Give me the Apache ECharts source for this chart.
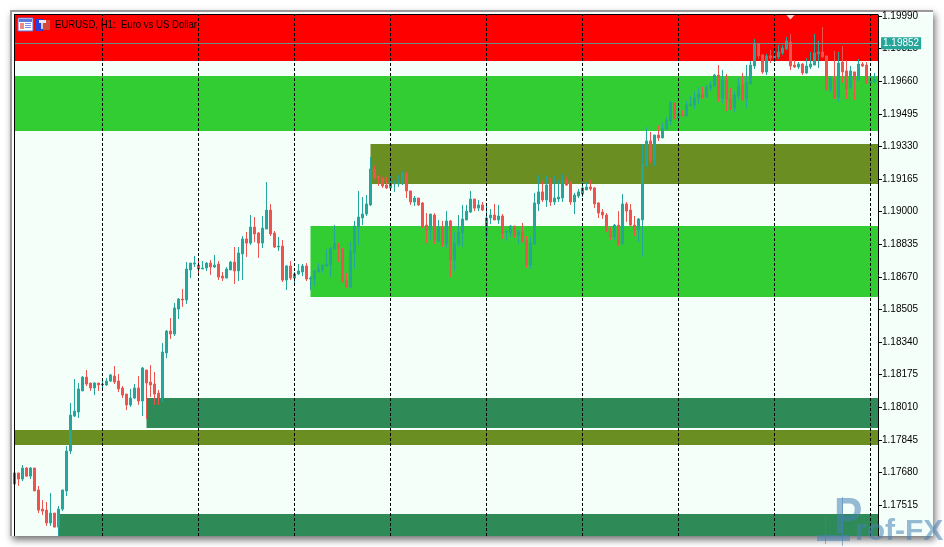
<!DOCTYPE html>
<html><head><meta charset="utf-8">
<style>html,body{margin:0;padding:0;background:#fff}#c{width:944px;height:547px}</style>
<script src="https://cdn.jsdelivr.net/npm/echarts@6/dist/echarts.min.js"></script>
</head><body><div id="c"></div>
<script>
var opens=[1.17622,1.17678,1.17647,1.17703,1.17662,1.17703,1.17592,1.17495,1.17490,1.17425,1.17475,1.17404,1.17495,1.17587,1.17789,1.17966,1.17986,1.18093,1.18163,1.18133,1.18108,1.18133,1.18123,1.18123,1.18143,1.18168,1.18143,1.18108,1.18077,1.18022,1.18057,1.18108,1.18042,1.18199,1.18138,1.18128,1.18082,1.18057,1.18285,1.18396,1.18381,1.18507,1.18558,1.18553,1.18705,1.18735,1.18730,1.18710,1.18715,1.18740,1.18720,1.18735,1.18674,1.18664,1.18705,1.18745,1.18700,1.18786,1.18862,1.18841,1.18922,1.18892,1.18841,1.18912,1.19008,1.18892,1.18821,1.18826,1.18654,1.18725,1.18664,1.18685,1.18695,1.18725,1.18659,1.18659,1.18695,1.18705,1.18725,1.18730,1.18811,1.18836,1.18811,1.18654,1.18619,1.18791,1.18922,1.18968,1.18988,1.19034,1.19216,1.19180,1.19170,1.19135,1.19120,1.19140,1.19140,1.19140,1.19196,1.19105,1.19049,1.19069,1.19044,1.18932,1.18907,1.18983,1.18852,1.18922,1.18836,1.18953,1.18755,1.18836,1.18892,1.18958,1.18998,1.19064,1.19018,1.19034,1.18877,1.18968,1.18983,1.18958,1.18978,1.18897,1.18892,1.18927,1.18882,1.18897,1.18857,1.18730,1.18836,1.19039,1.19100,1.19059,1.19145,1.19049,1.19064,1.19069,1.19160,1.19150,1.19049,1.19079,1.19089,1.19110,1.19125,1.19120,1.19044,1.18998,1.18983,1.18907,1.18872,1.18932,1.18836,1.19039,1.19008,1.18932,1.18907,1.18958,1.19231,1.19358,1.19261,1.19388,1.19373,1.19418,1.19459,1.19550,1.19474,1.19494,1.19484,1.19535,1.19540,1.19575,1.19595,1.19580,1.19626,1.19636,1.19691,1.19575,1.19666,1.19570,1.19524,1.19585,1.19641,1.19570,1.19646,1.19737,1.19848,1.19793,1.19707,1.19788,1.19777,1.19783,1.19803,1.19823,1.19858,1.19742,1.19732,1.19747,1.19702,1.19732,1.19742,1.19798,1.19808,1.19788,1.19616,1.19671,1.19580,1.19757,1.19712,1.19626,1.19707,1.19666,1.19747,1.19742,1.19651,1.19656];
var closes=[1.17678,1.17647,1.17703,1.17662,1.17703,1.17587,1.17490,1.17485,1.17425,1.17475,1.17404,1.17495,1.17592,1.17789,1.17971,1.17991,1.18103,1.18163,1.18128,1.18108,1.18133,1.18123,1.18128,1.18143,1.18174,1.18138,1.18103,1.18072,1.18022,1.18057,1.18108,1.18042,1.18209,1.18133,1.18123,1.18077,1.18057,1.18290,1.18396,1.18381,1.18513,1.18558,1.18553,1.18710,1.18740,1.18740,1.18710,1.18715,1.18740,1.18720,1.18730,1.18669,1.18664,1.18710,1.18745,1.18700,1.18791,1.18862,1.18841,1.18922,1.18887,1.18841,1.18917,1.19008,1.18887,1.18821,1.18826,1.18654,1.18725,1.18664,1.18685,1.18700,1.18725,1.18659,1.18664,1.18700,1.18710,1.18730,1.18735,1.18816,1.18841,1.18811,1.18644,1.18619,1.18801,1.18927,1.18973,1.18988,1.19039,1.19216,1.19170,1.19170,1.19130,1.19120,1.19140,1.19145,1.19150,1.19196,1.19105,1.19049,1.19069,1.19034,1.18922,1.18907,1.18988,1.18857,1.18922,1.18831,1.18953,1.18755,1.18841,1.18897,1.18963,1.19003,1.19064,1.19018,1.19034,1.19008,1.18968,1.18983,1.18958,1.18978,1.18887,1.18902,1.18927,1.18877,1.18897,1.18846,1.18730,1.18841,1.19044,1.19100,1.19059,1.19135,1.19049,1.19069,1.19074,1.19160,1.19135,1.19049,1.19084,1.19100,1.19120,1.19125,1.19115,1.19039,1.18993,1.18983,1.18902,1.18872,1.18932,1.18836,1.19039,1.19003,1.18932,1.18907,1.18963,1.19241,1.19358,1.19261,1.19388,1.19373,1.19423,1.19464,1.19555,1.19469,1.19494,1.19484,1.19540,1.19545,1.19575,1.19595,1.19575,1.19631,1.19641,1.19691,1.19575,1.19666,1.19570,1.19519,1.19590,1.19636,1.19565,1.19656,1.19742,1.19853,1.19788,1.19707,1.19788,1.19777,1.19788,1.19808,1.19828,1.19864,1.19737,1.19732,1.19747,1.19702,1.19737,1.19747,1.19803,1.19808,1.19783,1.19616,1.19681,1.19575,1.19752,1.19707,1.19621,1.19712,1.19666,1.19747,1.19737,1.19651,1.19661,1.19671];
var lows=[1.17622,1.17612,1.17637,1.17657,1.17647,1.17587,1.17475,1.17465,1.17410,1.17410,1.17404,1.17359,1.17485,1.17561,1.17774,1.17961,1.17956,1.18093,1.18118,1.18093,1.18072,1.18093,1.18098,1.18118,1.18138,1.18128,1.18088,1.18057,1.17996,1.18012,1.18052,1.18022,1.17966,1.17951,1.18062,1.18022,1.18022,1.18037,1.18259,1.18356,1.18371,1.18457,1.18518,1.18533,1.18664,1.18720,1.18685,1.18710,1.18700,1.18680,1.18715,1.18654,1.18649,1.18664,1.18705,1.18634,1.18649,1.18654,1.18771,1.18831,1.18846,1.18766,1.18816,1.18912,1.18877,1.18816,1.18801,1.18644,1.18604,1.18654,1.18624,1.18680,1.18674,1.18649,1.18604,1.18624,1.18695,1.18690,1.18720,1.18669,1.18811,1.18745,1.18644,1.18614,1.18614,1.18710,1.18831,1.18932,1.18978,1.19029,1.19165,1.19130,1.19120,1.19115,1.19105,1.19100,1.19125,1.19135,1.19069,1.19034,1.19029,1.19029,1.18917,1.18841,1.18857,1.18836,1.18846,1.18821,1.18816,1.18669,1.18700,1.18821,1.18821,1.18958,1.18993,1.19003,1.19003,1.19003,1.18862,1.18938,1.18958,1.18938,1.18862,1.18852,1.18872,1.18867,1.18836,1.18846,1.18715,1.18710,1.18831,1.19003,1.19049,1.19024,1.19029,1.19034,1.19049,1.19049,1.19130,1.19034,1.18988,1.19069,1.19074,1.19110,1.19105,1.19018,1.18968,1.18963,1.18897,1.18857,1.18857,1.18826,1.18836,1.18948,1.18927,1.18877,1.18846,1.18771,1.19226,1.19246,1.19231,1.19358,1.19373,1.19413,1.19438,1.19469,1.19454,1.19484,1.19484,1.19535,1.19519,1.19545,1.19570,1.19575,1.19610,1.19631,1.19555,1.19550,1.19509,1.19514,1.19504,1.19565,1.19565,1.19524,1.19646,1.19722,1.19772,1.19697,1.19691,1.19752,1.19757,1.19772,1.19793,1.19818,1.19717,1.19727,1.19722,1.19691,1.19697,1.19722,1.19742,1.19727,1.19777,1.19616,1.19605,1.19570,1.19555,1.19651,1.19570,1.19621,1.19565,1.19661,1.19732,1.19646,1.19646,1.19656];
var highs=[1.17683,1.17678,1.17718,1.17708,1.17708,1.17703,1.17612,1.17541,1.17531,1.17576,1.17475,1.17511,1.17592,1.17814,1.18032,1.18153,1.18133,1.18168,1.18199,1.18133,1.18138,1.18133,1.18148,1.18158,1.18179,1.18219,1.18179,1.18118,1.18077,1.18103,1.18128,1.18168,1.18214,1.18199,1.18224,1.18189,1.18098,1.18335,1.18401,1.18462,1.18538,1.18563,1.18609,1.18745,1.18740,1.18776,1.18766,1.18750,1.18745,1.18755,1.18781,1.18750,1.18695,1.18720,1.18750,1.18821,1.18821,1.18877,1.18897,1.18983,1.18973,1.18897,1.18978,1.19150,1.19039,1.18902,1.18872,1.18857,1.18730,1.18750,1.18695,1.18735,1.18735,1.18740,1.18674,1.18705,1.18740,1.18730,1.18811,1.18821,1.18932,1.18841,1.18816,1.18690,1.18846,1.18953,1.19105,1.19074,1.19084,1.19277,1.19231,1.19185,1.19175,1.19175,1.19180,1.19160,1.19185,1.19206,1.19201,1.19105,1.19079,1.19069,1.19049,1.18993,1.18988,1.18993,1.18958,1.18953,1.19003,1.18958,1.18897,1.18983,1.19034,1.19034,1.19105,1.19064,1.19059,1.19049,1.19039,1.19013,1.19039,1.19034,1.18988,1.18902,1.18932,1.18927,1.18907,1.18943,1.18877,1.18872,1.19095,1.19185,1.19155,1.19180,1.19170,1.19180,1.19160,1.19191,1.19175,1.19155,1.19095,1.19115,1.19150,1.19150,1.19160,1.19125,1.19049,1.19013,1.18993,1.18922,1.18938,1.19003,1.19089,1.19049,1.19039,1.18978,1.18968,1.19342,1.19428,1.19403,1.19388,1.19438,1.19449,1.19479,1.19560,1.19550,1.19530,1.19514,1.19560,1.19585,1.19610,1.19631,1.19631,1.19641,1.19661,1.19697,1.19742,1.19717,1.19697,1.19626,1.19610,1.19676,1.19702,1.19742,1.19762,1.19874,1.19848,1.19798,1.19798,1.19818,1.19813,1.19843,1.19843,1.19884,1.19899,1.19767,1.19757,1.19752,1.19777,1.19808,1.19899,1.19864,1.19934,1.19788,1.19681,1.19813,1.19808,1.19838,1.19767,1.19737,1.19707,1.19772,1.19757,1.19757,1.19702,1.19702];

var priceTicks=[1.19990,1.19825,1.19660,1.19495,1.19330,1.19165,1.19000,1.18835,1.18670,1.18505,1.18340,1.18175,1.18010,1.17845,1.17680,1.17515];
var periodBreaks=[22,46,70,94,118,142,166,190,214];
var zoneStart=[0.125,0.125,89,74,33,0.125,11];
var zoneLow=[1.19762,1.19408,1.19140,1.18568,1.17905,1.17819,1.17359];
var zoneHigh=[1.19995,1.19686,1.19342,1.18927,1.18057,1.17895,1.17470];
var zoneColor=['#ff0000','#32cd32','#6b8e23','#32cd32','#2e8b57','#6b8e23','#2e8b57'];
var currentPrice=1.19852;
var highMark=[194,1.19985];
var symbolTitle='EURUSD, H1:  Euro vs US Dollar';
var brandHead='P', brandTail='rof-FX';

var xMin=0.125, xMax=215.875;
var candles=opens.map(function(o,i){return [i,o,closes[i],lows[i],highs[i]];});
var zones=zoneStart.map(function(s,i){return [s,xMax,zoneLow[i],zoneHigh[i],i];});

var chart=echarts.init(document.getElementById('c'),null,{renderer:'canvas'});
function R(x,y,w,h,fill,z,extra){var o={type:'rect',z:z,silent:true,shape:{x:x,y:y,width:w,height:h},style:{fill:fill}};if(extra)for(var k in extra)o.style[k]=extra[k];return o;}
var wm='rgba(70,130,180,0.55)';
chart.setOption({
 animation:false,
 backgroundColor:'#ffffff',
 grid:{left:15,top:15,width:863,height:521,containLabel:false},
 xAxis:{type:'value',min:xMin,max:xMax,show:false},
 yAxis:{type:'value',position:'right',min:1.17359,max:1.19995,scale:true,
  axisLine:{show:true,onZero:false,lineStyle:{color:'#000',width:1}},
  axisTick:{show:true,length:4,lineStyle:{color:'#000',width:1},customValues:priceTicks},
  axisLabel:{show:true,margin:4,padding:[2,0,0,0],color:'#000',fontFamily:'Liberation Sans',fontSize:10,customValues:priceTicks,formatter:function(v){return v.toFixed(5);}},
  splitLine:{show:false}},
 graphic:[
  R(10,10,923,526,'#9a9a9a',-11,{shadowBlur:7,shadowOffsetX:2,shadowOffsetY:4,shadowColor:'rgba(0,0,0,0.55)'}),
  R(12,12,921,524,'#ffffff',-10),
  R(14,14,919,522,'#f5fffa',-9),
  R(14,14,864,1,'#000000',50),
  R(14,14,1,522,'#000000',50),
  // chart-window icons
  R(18,18,15,13,'#ffffff',60,{stroke:'#5b6fd0',lineWidth:1}),
  R(19,19,13,3,'#5a78e0',61),R(20,23,4,6,'#f08a80',61),R(25,23,6,1,'#7a8cf0',61),R(25,25,6,1,'#7a8cf0',61),R(25,27,6,1,'#7a8cf0',61),
  R(36,19,7,12,'#2a3fe0',60),R(43,20,7,10,'#d04a40',60),R(39,20,7,3,'#e8e8e8',61),R(41,23,2,6,'#e0c8c0',61),
  {type:'text',z:70,silent:true,x:55,y:24.5,scaleX:0.87,style:{text:symbolTitle,fill:'#000',font:'11px "Liberation Sans"',textVerticalAlign:'middle',textAlign:'left'}},
  // watermark
  R(825,517,1,27,wm,95),R(842,497,1,49,wm,95),R(817,535,33,6,wm,95),
  {type:'text',z:96,silent:true,x:834,y:519,scaleX:0.85,style:{text:brandHead,fill:wm,font:'bold 50px "Liberation Sans"',textVerticalAlign:'middle'}},
  {type:'text',z:96,silent:true,x:855,y:532,style:{text:brandTail,fill:wm,font:'bold 30px "Liberation Sans"',textVerticalAlign:'middle'}}
 ],
 series:[
  {type:'custom',name:'zones',z:1,clip:true,silent:true,coordinateSystem:'cartesian2d',data:zones,
   encode:{x:[0,1],y:[2,3]},
   renderItem:function(p,api){
     var a=api.coord([api.value(0),api.value(3)]),b=api.coord([api.value(1),api.value(2)]);
     return {type:'rect',shape:{x:a[0],y:a[1],width:b[0]-a[0],height:b[1]-a[1]},style:{fill:zoneColor[api.value(4)]}};
   },
   markLine:{silent:true,symbol:'none',label:{show:false},lineStyle:{color:'#000',width:1,type:[3,2]},
     data:periodBreaks.map(function(x){return {xAxis:x};})}
  },
  {type:'line',name:'last',z:2,data:[],silent:true,
   markLine:{silent:true,symbol:'none',precision:5,lineStyle:{color:'#6f8f8a',width:1,type:'solid'},
     label:{show:true,position:'end',distance:3,color:'#fff',backgroundColor:'#26a69a',padding:[2,2,0,2],fontFamily:'Liberation Sans',fontSize:10,formatter:function(p){return p.value.toFixed(5);}},
     data:[{yAxis:currentPrice}]}
  },
  {type:'candlestick',name:'EURUSD',z:3,clip:true,barWidth:2,silent:true,data:candles,encode:{x:0,y:[1,2,3,4]},
   itemStyle:{color:'#26a69a',color0:'#ef5350',borderColor:'#26a69a',borderColor0:'#ef5350',borderWidth:1}},
  {type:'scatter',name:'high',z:4,silent:true,symbol:'triangle',symbolRotate:180,symbolSize:[9,5],data:[highMark],itemStyle:{color:'#ffffff'}}
 ]
});
</script></body></html>
